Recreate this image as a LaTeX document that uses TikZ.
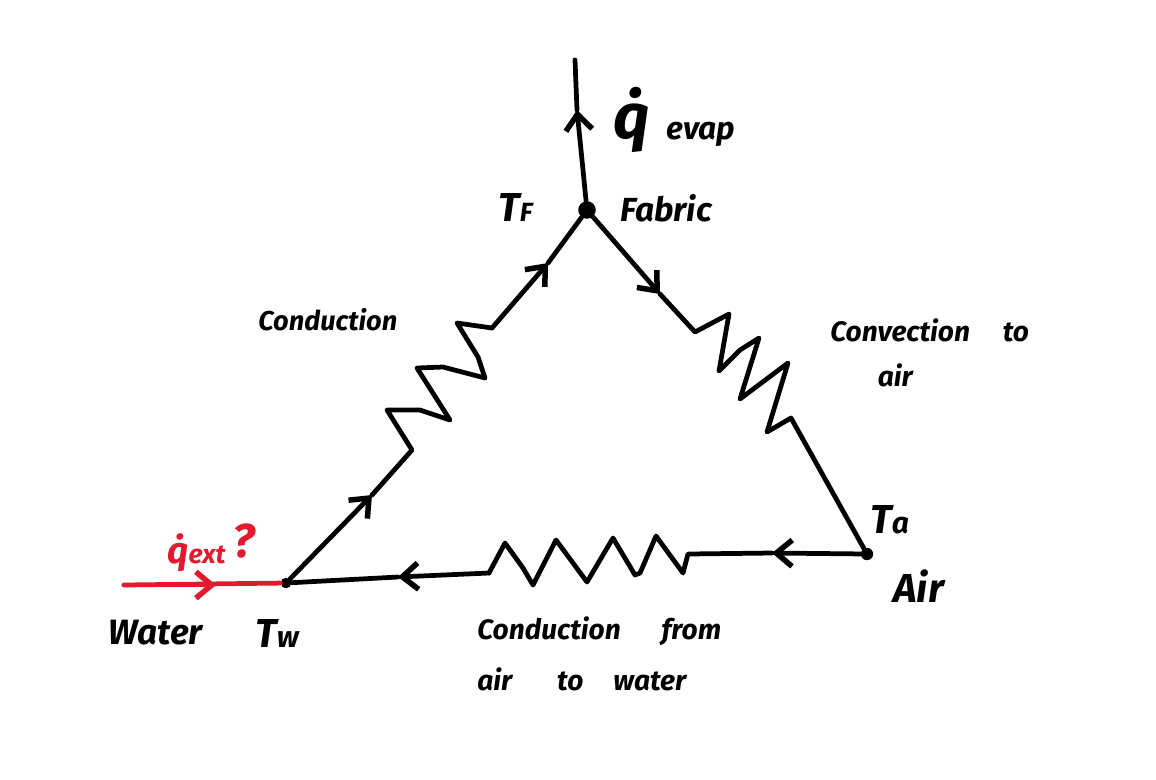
\documentclass[tikz,border=0pt]{standalone}
\usepackage{fontspec}
\setmainfont{Fira Sans}
\usetikzlibrary{arrows.meta}
\definecolor{inkred}{RGB}{226,26,46}
\tikzset{
  wire/.style={line width=0.95mm,line cap=round,line join=round},
  flow/.style={wire,-{Straight Barb[length=9pt,width=15pt,line width=1.1mm]}},
  dot/.style={circle,fill=black,inner sep=0pt,minimum size=#1},
  hand/.style={font=\itshape\fontsize{#1}{#1}\selectfont\bfseries,inner sep=0pt,text=black},
}
\begin{document}
\begin{tikzpicture}[x=0.02cm,y=-0.02cm]
   \useasboundingbox (0,0) rectangle (1156,779);
   % junctions
   \node[dot=10pt] (nFabric) at (587,210) {};
   \node[dot=7pt] (nAir) at (867,554) {};
   \node[dot=6pt] (nWater) at (286,583) {};
   \coordinate (nTop) at (575,60);
   \coordinate (nIn) at (124,585);
   % arrow places
   \coordinate (aTop) at (577,110);
   \coordinate (aLeft) at (372,495);
   \coordinate (aRight) at (548,263);
   \coordinate (aDown) at (660,294);
   \coordinate (aBottom) at (772,553);
   \coordinate (aBack) at (398,577);
   \coordinate (aIn) at (216,585);
   % resistor ends
   \coordinate (rLa) at (412,450);
   \coordinate (rLb) at (492,328);
   \coordinate (rRa) at (695,332);
   \coordinate (rRb) at (791,418);
   \coordinate (rBa) at (688,554);
   \coordinate (rBb) at (489,573);
  %
   \draw[wire,inkred] (nIn) -- (nWater);
   \draw[flow,inkred] (nIn) -- (aIn);
  %
   \draw[wire] (aTop) -- (nTop);
   \draw[flow] (nFabric) -- (aTop);
  %
   \draw[wire] (aLeft) -- (rLa) -- (387,410) -- (420,410) -- (450,420) -- (417,368)
      -- (443,367) -- (485,378) -- (478,357) -- (457,323) -- (rLb);
   \draw[flow] (nWater) -- (aLeft);
   \draw[wire] (aRight) -- (nFabric);
   \draw[flow] (rLb) -- (aRight);
  %
   \draw[wire] (aDown) -- (rRa) -- (729,314) -- (719,371) -- (740,350) -- (759,338)
      -- (740,399) -- (788,363) -- (767,432) -- (rRb) -- (nAir);
   \draw[flow] (nFabric) -- (aDown);
  %
   \draw[wire] (aBottom) -- (rBa) -- (683,573) -- (656,536) -- (640,573) -- (635,575)
      -- (613,538) -- (587,582) -- (556,540) -- (533,585) -- (523,568) -- (505,543) -- (rBb);
   \draw[flow] (nAir) -- (aBottom);
   \draw[wire] (aBack) -- (nWater);
   \draw[flow] (rBb) -- (aBack);
  %
   \node[hand=20,anchor=west] (tWater) at (108,633) {Water};
   \node[hand=23,anchor=west] (tTw) at (255,633) {T{\fontsize{17}{17}\selectfont w}};
   \node[hand=21,anchor=west,text=inkred] (tExt) at (167,553) {\.q\fontsize{15}{15}\selectfont ext};
   \node[hand=27,anchor=west,text=inkred] (tAsk) at (232,541) {?};
   \node[hand=19,anchor=west] (tFabric) at (620,208) {Fabric};
   \node[hand=23,anchor=west] (tTF) at (498,207) {T{\fontsize{15}{15}\selectfont F}};
   \node[hand=36,anchor=west] (tQ) at (613,120) {\.q};
   \node[hand=18,anchor=west] (tEvap) at (666,134) {evap};
   \node[hand=15.5,anchor=west] (tLeft) at (258,320) {Conduction};
   \node[hand=16,anchor=north west,align=left] (tRight) at (830,318)
      {Convection\hspace{0.66cm}to\\[10pt]\hspace{0.95cm}air};
   \node[hand=23,anchor=west] (tTa) at (870,520) {T{\fontsize{17}{17}\selectfont a}};
   \node[hand=23,anchor=west] (tAir) at (893,586) {Air};
   \node[hand=16,anchor=north west,align=left] (tBottom) at (477,616)
      {Conduction\hspace{0.82cm}from\\[12pt]air\hspace{0.9cm}to\hspace{0.6cm}water};
\end{tikzpicture}
\end{document}
